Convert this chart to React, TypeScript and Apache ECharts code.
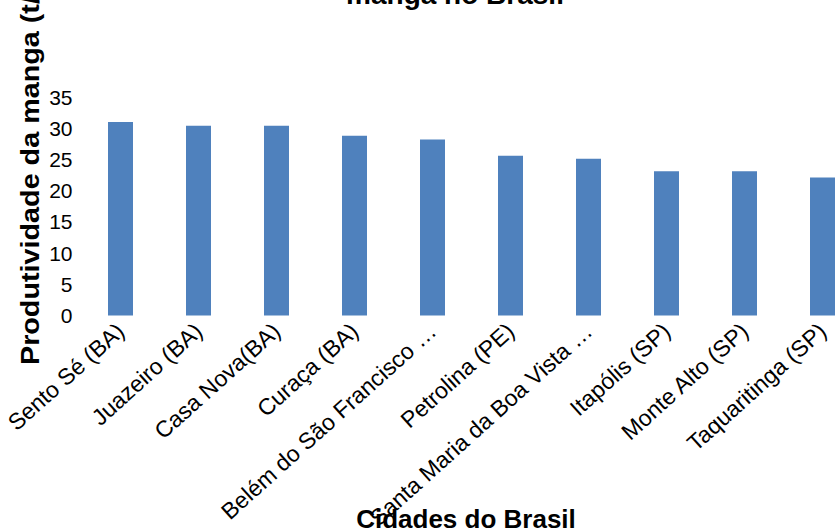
import React, { useEffect, useRef } from "react";
import * as echarts from "echarts";

const categories = [
  "Sento Sé (BA)",
  "Juazeiro (BA)",
  "Casa Nova(BA)",
  "Curaça (BA)",
  "Belém do São Francisco …",
  "Petrolina (PE)",
  "Santa Maria da Boa Vista …",
  "Itapólis (SP)",
  "Monte Alto (SP)",
  "Taquaritinga (SP)",
];
const productivity = [31.0, 30.4, 30.4, 28.8, 28.2, 25.6, 25.1, 23.1, 23.1, 22.1];
const titleText = "manga no Brasil";
const yTitle = "Produtividade da manga (t/ha)";
const xTitle = "Cidades do Brasil";

const FONT = "'Liberation Sans', Arial, sans-serif";

export default function App() {
  const ref = useRef<HTMLDivElement>(null);
  useEffect(() => {
    if (!ref.current) return;
    const chart = echarts.init(ref.current, undefined, { renderer: "svg" });
    chart.setOption({
      animation: false,
      backgroundColor: "#ffffff",
      textStyle: { fontFamily: FONT },
      grid: { left: 81.5, right: 8.5, top: 97, bottom: 215, containLabel: false },
      xAxis: {
        type: "category",
        data: categories,
        axisLine: { show: false },
        axisTick: { show: false },
        axisLabel: {
          interval: 0,
          rotate: 42,
          fontSize: 23,
          color: "#000000",
          margin: 12,
          fontFamily: FONT,
        },
      },
      yAxis: {
        type: "value",
        min: 0,
        max: 35,
        interval: 5,
        splitLine: { show: false },
        axisLine: { show: false },
        axisTick: { show: false },
        axisLabel: { fontSize: 21, color: "#000000", margin: 9, fontFamily: FONT },
      },
      series: [
        {
          type: "bar",
          data: productivity,
          barWidth: 25,
          itemStyle: { color: "#4F81BD" },
        },
      ],
      graphic: [
        {
          type: "text",
          x: 455,
          y: -6,
          style: {
            text: titleText,
            font: `bold 28px ${FONT}`,
            fill: "#000000",
            align: "center",
            verticalAlign: "middle",
          },
        },
        {
          type: "text",
          x: 466,
          y: 519,
          style: {
            text: xTitle,
            font: `bold 26px ${FONT}`,
            fill: "#000000",
            align: "center",
            verticalAlign: "middle",
          },
        },
        {
          type: "text",
          x: 31,
          y: 159,
          rotation: Math.PI / 2,
          scaleX: 1.15,
          style: {
            text: yTitle,
            font: `bold 25px ${FONT}`,
            fill: "#000000",
            align: "center",
            verticalAlign: "middle",
          },
        },
      ],
    });
    return () => chart.dispose();
  }, []);
  return (
    <div
      style={{
        position: "fixed",
        left: 0,
        top: 0,
        width: 836,
        height: 532,
        overflow: "hidden",
        background: "#fff",
      }}
    >
      <div ref={ref} style={{ width: 870, height: 532 }} />
    </div>
  );
}
